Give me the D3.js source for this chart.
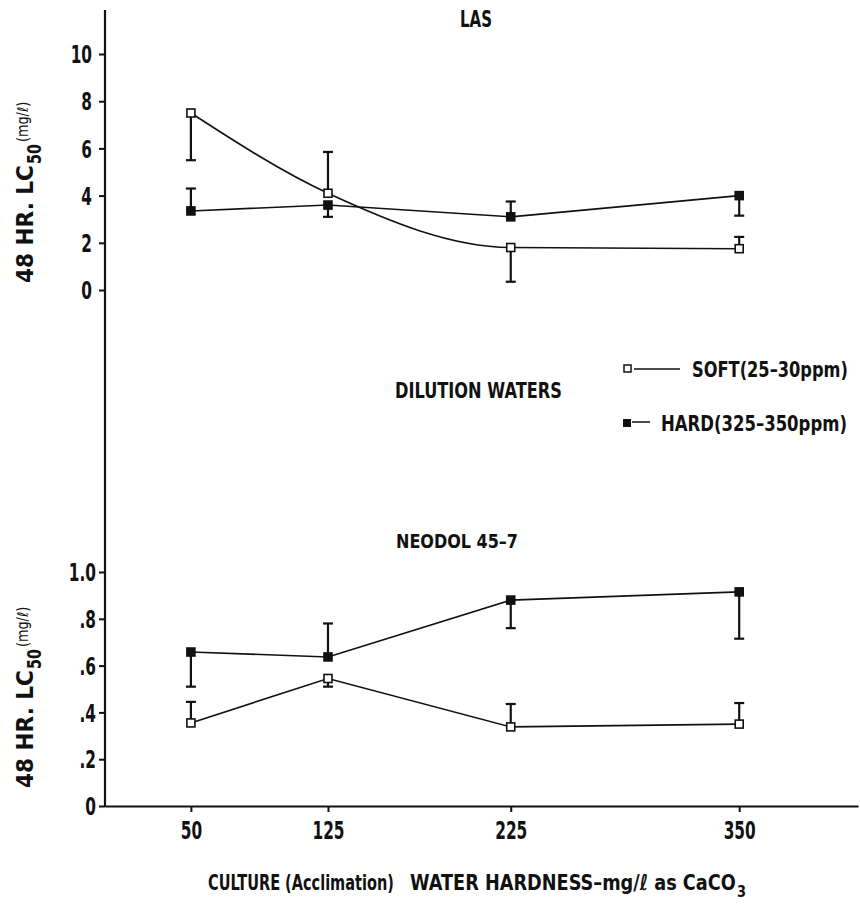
<!DOCTYPE html>
<html>
<head>
<meta charset="utf-8">
<script src="https://cdn.jsdelivr.net/npm/d3@7"></script>
<style>
  body { margin: 0; background: #fff; }
  svg text { font-family: "DejaVu Sans", sans-serif; font-weight: bold; fill: #111; }
</style>
</head>
<body>
<svg width="860" height="919"></svg>
<script>
// culture hardness (x) and read-off LC50 values
const hardness = [50, 125, 225, 350];

const lasSoft = [7.5, 4.1, 1.8, 1.75];
const lasSoftBar = [5.5, 5.85, 0.35, 2.25];
const lasHard = [3.35, 3.6, 3.1, 4.0];
const lasHardBar = [4.3, 3.1, 3.75, 3.15];

const neoSoft = [0.355, 0.545, 0.338, 0.35];
const neoSoftBar = [0.445, 0.51, 0.436, 0.44];
const neoHard = [0.658, 0.637, 0.88, 0.915];
const neoHardBar = [0.51, 0.78, 0.76, 0.715];

const lasTicks = [0, 2, 4, 6, 8, 10];
const neoTicks = [0, 0.2, 0.4, 0.6, 0.8, 1.0];
const neoTickLabels = ["0", ".2", ".4", ".6", ".8", "1.0"];

const svg = d3.select("svg");
const axisX = 105;
const squeeze = 0.64; // printed figure uses a condensed face

const x = d3.scaleLinear().domain([3, 415]).range([axisX, 858]);
const yTop = d3.scaleLinear().domain([0, 10]).range([290, 54]);
const yBot = d3.scaleLinear().domain([0, 1]).range([806, 572]);

// long left axis line shared by both panels
svg.append("line")
    .attr("x1", axisX).attr("x2", axisX)
    .attr("y1", 10).attr("y2", 807)
    .attr("stroke", "#111").attr("stroke-width", 2.2);

function yAxis(scale, ticks, labels, labelX) {
    const g = svg.append("g").attr("transform", `translate(${axisX},0)`);
    g.call(d3.axisLeft(scale).tickValues(ticks).tickSize(6)
        .tickFormat((d, i) => labels ? labels[i] : d));
    g.select(".domain").remove();
    g.selectAll(".tick line").attr("stroke", "#111").attr("stroke-width", 2);
    g.selectAll(".tick text")
        .attr("x", 0).attr("dy", "0.36em")
        .attr("transform", `translate(${labelX},0) scale(${squeeze},1)`)
        .style("font-size", "24px").attr("fill", "#111");
}
yAxis(yTop, lasTicks, null, -13);
yAxis(yBot, neoTicks, neoTickLabels, -9);

// x axis
const gx = svg.append("g").attr("transform", "translate(0,806)");
gx.call(d3.axisBottom(x).tickValues(hardness).tickSize(6).tickSizeOuter(0));
gx.select(".domain").attr("stroke", "#111").attr("stroke-width", 2.2);
gx.selectAll(".tick line").attr("stroke", "#111").attr("stroke-width", 2);
gx.selectAll(".tick text").attr("y", 0).attr("dy", 0)
    .attr("transform", `translate(0,33) scale(${squeeze},1)`)
    .style("font-size", "24px").attr("fill", "#111");

function series(scale, vals, bars, filled, curve) {
    const pts = hardness.map((h, i) => ({ h, v: vals[i], b: bars[i] }));
    const line = d3.line().x(d => x(d.h)).y(d => scale(d.v)).curve(curve);
    const g = svg.append("g");
    g.append("path").datum(pts).attr("d", line)
        .attr("fill", "none").attr("stroke", "#111").attr("stroke-width", 1.6);
    const eb = g.selectAll(".eb").data(pts).enter().append("g");
    eb.append("line")
        .attr("x1", d => x(d.h)).attr("x2", d => x(d.h))
        .attr("y1", d => scale(d.v)).attr("y2", d => scale(d.b))
        .attr("stroke", "#111").attr("stroke-width", 2.2);
    eb.append("line")
        .attr("x1", d => x(d.h) - 5).attr("x2", d => x(d.h) + 5)
        .attr("y1", d => scale(d.b)).attr("y2", d => scale(d.b))
        .attr("stroke", "#111").attr("stroke-width", 2.2);
    g.selectAll(".pt").data(pts).enter().append("rect")
        .attr("x", d => x(d.h) - 4).attr("y", d => scale(d.v) - 4)
        .attr("width", 8).attr("height", 8)
        .attr("fill", filled ? "#111" : "#fff")
        .attr("stroke", "#111").attr("stroke-width", 1.6);
}

series(yTop, lasHard, lasHardBar, true, d3.curveLinear);
series(yTop, lasSoft, lasSoftBar, false, d3.curveMonotoneX);
series(yBot, neoHard, neoHardBar, true, d3.curveLinear);
series(yBot, neoSoft, neoSoftBar, false, d3.curveLinear);

// text squeezed horizontally to a given printed width
function label(parent, xPos, yPos, size, width, str) {
    const t = parent.append("text").style("font-size", size + "px").text(str);
    const sx = width / t.node().getComputedTextLength();
    t.attr("transform", `translate(${xPos},${yPos}) scale(${sx},1)`);
    return t;
}

// panel titles
label(svg, 460, 27, 23, 32, "LAS");
label(svg, 396, 548, 20, 122, "NEODOL 45\u20137");
label(svg, 395, 398, 22, 167, "DILUTION WATERS");

// legend
svg.append("rect").attr("x", 624).attr("y", 365).attr("width", 7).attr("height", 7)
    .attr("fill", "#fff").attr("stroke", "#111").attr("stroke-width", 1.5);
svg.append("line").attr("x1", 634).attr("x2", 680).attr("y1", 369).attr("y2", 369)
    .attr("stroke", "#111").attr("stroke-width", 1.5);
label(svg, 692, 377, 22, 156, "SOFT(25\u201330ppm)");
svg.append("rect").attr("x", 623).attr("y", 419).attr("width", 8).attr("height", 8)
    .attr("fill", "#111");
svg.append("line").attr("x1", 632).attr("x2", 650).attr("y1", 422).attr("y2", 422)
    .attr("stroke", "#111").attr("stroke-width", 1.5);
label(svg, 661, 431, 22, 186, "HARD(325\u2013350ppm)");

// y titles, rotated, reading upward from the bottom end
function yTitle(bottom) {
    const g = svg.append("g").attr("transform", `translate(33,${bottom}) rotate(-90)`);
    label(g, 0, 0, 23, 118, "48 HR. LC");
    label(g, 119, 8, 19, 20, "50");
    label(g, 141, -5, 15, 45, "(mg/\u2113)").style("font-weight", "normal");
}
yTitle(283);
yTitle(788);

// x title
label(svg, 208, 890, 22, 186, "CULTURE (Acclimation)");
label(svg, 410, 890, 22, 326, "WATER HARDNESS\u2013mg/\u2113 as CaCO");
label(svg, 737, 897, 16, 9, "3");
</script>
</body>
</html>
